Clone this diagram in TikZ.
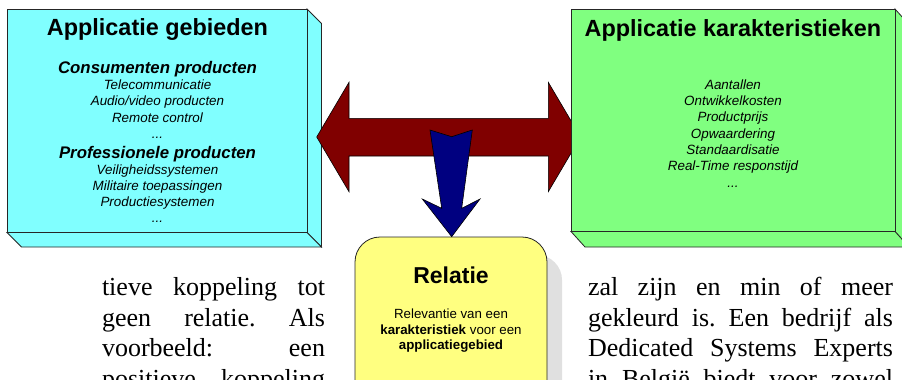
\documentclass[tikz,border=0pt]{standalone}
\usepackage{fontspec}
\setmainfont{Liberation Serif}
\newfontfamily\arialf{Liberation Sans}
\definecolor{cyanbox}{RGB}{128,255,255}
\definecolor{greenbox}{RGB}{128,255,128}
\definecolor{yellowbox}{RGB}{255,255,128}
\definecolor{darkred}{RGB}{128,0,0}
\definecolor{navyarrow}{RGB}{0,0,128}
\definecolor{shadowgrey}{RGB}{224,224,224}
\frenchspacing
\begin{document}
\begin{tikzpicture}[x=1pt,y=-1pt,
  face/.style={draw=black!85, line width=0.8pt, line join=miter},
  arrowshape/.style={draw=black, line width=0.6pt, line join=miter},
  txt/.style={inner sep=0pt, outer sep=0pt, anchor=base},
  boxtitle/.style={txt, font=\arialf\bfseries\fontsize{23.4}{28}\selectfont},
  subhead/.style={txt, font=\arialf\bfseries\itshape\fontsize{16.8}{20}\selectfont},
  item/.style={txt, font=\arialf\itshape\fontsize{13.4}{16}\selectfont},
  reltitle/.style={txt, font=\arialf\bfseries\fontsize{23}{27}\selectfont},
  relline/.style={txt, font=\arialf\fontsize{13.3}{16}\selectfont},
  body/.style={inner sep=0pt, outer sep=0pt, anchor=base west, font=\fontsize{26}{30}\selectfont}
]
\useasboundingbox (0,0) rectangle (902,380);
\clip (0,0) rectangle (902,380);

% ---- left 3D box (Applicatie gebieden)
\fill[white] (0,0) rectangle (902,380);
\draw[face, fill=cyanbox] (307,9) -- (321.5,23.5) -- (321.5,247) -- (307,232.5) -- cycle;
\draw[face, fill=cyanbox] (7,232.5) -- (307,232.5) -- (321.5,247) -- (21.5,247) -- cycle;
\draw[face, fill=cyanbox] (7,9) rectangle (307,232.5);

\node[boxtitle] (lt) at (157.5,35.5) {Applicatie gebieden};
\node[subhead] (ls1) at (157.5,73.3) {Consumenten producten};
\node[item] (li1) at (157.5,89.3) {Telecommunicatie};
\node[item] (li2) at (157.5,105.8) {Audio/video producten};
\node[item] (li3) at (157.5,122.3) {Remote control};
\node[item] (li4) at (157.5,138.5) {...};
\node[subhead] (ls2) at (157.5,158.3) {Professionele producten};
\node[item] (li5) at (157.5,174.8) {Veiligheidssystemen};
\node[item] (li6) at (157.5,190.3) {Militaire toepassingen};
\node[item] (li7) at (157.5,206) {Productiesystemen};
\node[item] (li8) at (157.5,222.5) {...};

% ---- red double arrow
\draw[arrowshape, fill=darkred] (316.7,137) -- (349,82.3) -- (349,118.3) -- (548.3,118.3) -- (548.3,82.3)
  -- (580.6,137) -- (548.3,191.7) -- (548.3,156) -- (349,156) -- (349,191.7) -- cycle;

% ---- right 3D box (Applicatie karakteristieken)
\draw[face, fill=greenbox] (895,9) -- (909,24.5) -- (909,247) -- (895,231.5) -- cycle;
\draw[face, fill=greenbox] (571,231.5) -- (895,231.5) -- (909,247) -- (585,247) -- cycle;
\draw[face, fill=greenbox] (571,9) rectangle (895,231.5);

\node[boxtitle] (rt) at (733,36) {Applicatie karakteristieken};
\node[item] (ri1) at (733,89.3) {Aantallen};
\node[item] (ri2) at (733,105.6) {Ontwikkelkosten};
\node[item] (ri3) at (733,121.9) {Productprijs};
\node[item] (ri4) at (733,138.2) {Opwaardering};
\node[item] (ri5) at (733,154.5) {Standaardisatie};
\node[item] (ri6) at (733,170.8) {Real-Time responstijd};
\node[item] (ri7) at (733,187.1) {...};

% ---- Relatie box
\fill[shadowgrey, rounded corners=25pt] (370,255) rectangle (562,420);
\draw[face, fill=yellowbox, rounded corners=25pt] (355,237) rectangle (547,410);
\node[reltitle] (relt) at (451,283.3) {Relatie};
\node[relline] (rel1) at (451,318.3) {Relevantie van een};
\node[relline] (rel2) at (451,334) {\textbf{karakteristiek} voor een};
\node[relline] (rel3) at (451,349.5) {\textbf{applicatiegebied}};

% ---- blue down arrow
\draw[arrowshape, fill=navyarrow] (430,130) -- (451.7,136.7) -- (472.3,130) -- (461.7,208.3) -- (480,199)
  -- (451.7,236.7) -- (422.3,199) -- (441.7,208.3) -- cycle;

% ---- body text columns
\node[body] (b1) at (102,295.7) {\makebox[223pt][s]{tieve koppeling tot}};
\node[body] (b2) at (102,326.2) {\makebox[223pt][s]{geen relatie. Als}};
\node[body] (b3) at (102,356.7) {\makebox[223pt][s]{voorbeeld: een}};
\node[body] (b4) at (102,387.2) {\makebox[223pt][s]{positieve koppeling}};
\node[body] (c1) at (588,295.7) {\makebox[305pt][s]{zal zijn en min of meer}};
\node[body] (c2) at (588,326.2) {\makebox[305pt][s]{gekleurd is. Een bedrijf als}};
\node[body] (c3) at (588,356.7) {\makebox[305pt][s]{Dedicated Systems Experts}};
\node[body] (c4) at (588,387.2) {\makebox[305pt][s]{in België biedt voor zowel}};
\end{tikzpicture}
\end{document}
